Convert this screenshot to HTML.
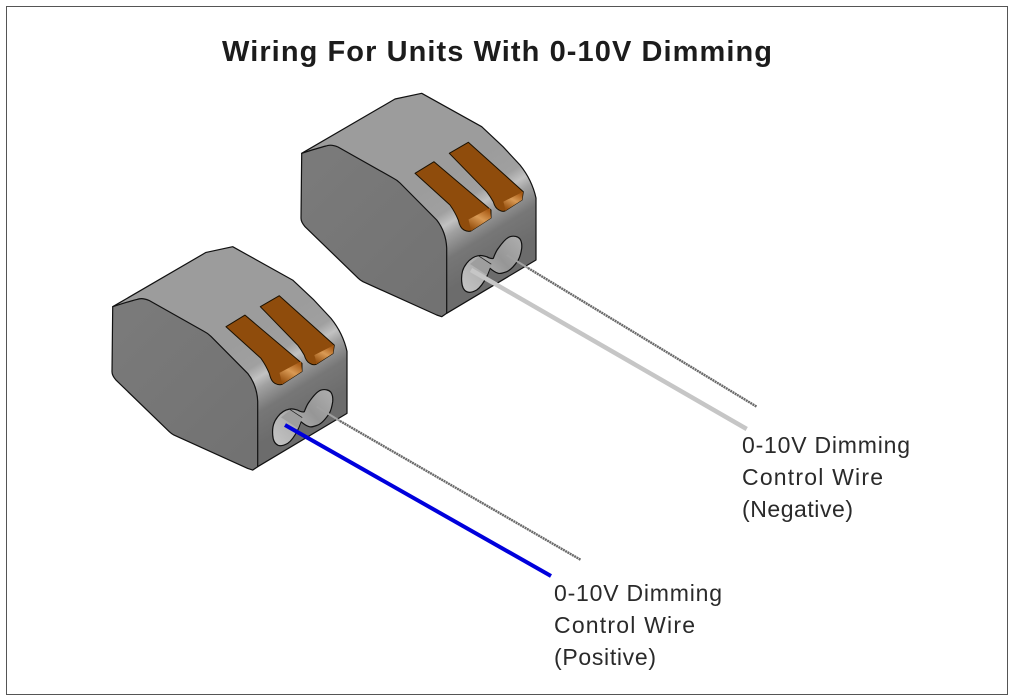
<!DOCTYPE html>
<html><head><meta charset="utf-8"><style>
html,body{margin:0;padding:0;background:#fff;width:1014px;height:700px;overflow:hidden}
svg{display:block}
.t{font-family:"Liberation Sans",sans-serif;font-size:23px;fill:#2a2a2a}
</style></head><body>
<svg width="1014" height="700" viewBox="0 0 1014 700" xmlns="http://www.w3.org/2000/svg">
<defs>
<linearGradient id="face" gradientUnits="userSpaceOnUse" x1="462" y1="166" x2="514" y2="251">
<stop offset="0" stop-color="#9c9c9c"/><stop offset=".3" stop-color="#a0a0a0"/><stop offset=".42" stop-color="#c2c2c2"/><stop offset=".52" stop-color="#a0a0a0"/><stop offset=".72" stop-color="#777"/><stop offset="1" stop-color="#6c6c6c"/></linearGradient>
<linearGradient id="left" gradientUnits="userSpaceOnUse" x1="310" y1="170" x2="440" y2="300">
<stop offset="0" stop-color="#7a7a7a"/><stop offset="1" stop-color="#727272"/></linearGradient>
<linearGradient id="cop" gradientUnits="userSpaceOnUse" x1="474" y1="230" x2="486" y2="209">
<stop offset="0" stop-color="#96500f"/><stop offset=".55" stop-color="#d99a55"/><stop offset="1" stop-color="#a85a14"/></linearGradient>
<linearGradient id="cop2" gradientUnits="userSpaceOnUse" x1="508" y1="210" x2="518" y2="192">
<stop offset="0" stop-color="#96500f"/><stop offset=".55" stop-color="#d99a55"/><stop offset="1" stop-color="#a85a14"/></linearGradient>
<linearGradient id="slot" gradientUnits="userSpaceOnUse" x1="462" y1="290" x2="520" y2="240">
<stop offset="0" stop-color="#c4c4c4"/><stop offset=".35" stop-color="#b0b0b0"/><stop offset=".65" stop-color="#969696"/><stop offset="1" stop-color="#acacac"/></linearGradient>
<g id="conn" stroke-linejoin="round" stroke-linecap="round">
<path d="M301.7 153.3 L395 99 L421.7 93.3 L481.7 126.7 L503 146.7 L520 165 Q532 180 536 198 L536 260 L446.7 313.3 L446.7 248 Z" fill="url(#face)"/>
<path d="M301.7 153.3 Q318 148 326 146 Q331 144 338 147 L393 178 Q397 180 400 183 L436.7 220 Q446 232 446.7 248 L446.7 313.3 L441.7 316.7 L436.7 315 L363 281.7 Q360 280 358.3 278.3 L305 226.7 Q301 222 301 218.3 Z" fill="url(#left)"/>
<path d="M301.7 153.3 Q318 148 326 146 Q331 144 338 147 L393 178 Q397 180 400 183 L436.7 220 Q446 232 446.7 248 L446.7 313.3" fill="none" stroke="#111" stroke-width="1.2"/>
<path d="M301.7 153.3 L301 218.3 Q301 222 305 226.7 L358.3 278.3 Q360 280 363 281.7 L436.7 315 L441.7 316.7 L446.7 313.3 L536 260 L536 198 Q532 180 520 165 L503 146.7 L481.7 126.7 L421.7 93.3 L395 99 Z" fill="none" stroke="#111" stroke-width="1.2"/>
<!-- paddle 1 -->
<path d="M415 173.3 L450 205 Q455 212 458.3 220 Q460 228 464 230 Q468 232 471 231 L491 218 L491 210 L434 161.7Z" fill="#8f4c0c" stroke="#1a1000" stroke-width="1"/>
<path d="M468.5 219.5 L490 208 L491 218 L471 231 Q470 225 468.5 219.5Z" fill="url(#cop)"/>
<!-- paddle 2 -->
<path d="M449.3 153.3 L486.7 191.7 Q490 196 493.3 201.7 Q495 208 499 210 Q502 212 505 211 L522 200 L523.3 191.7 L468.3 142.3Z" fill="#8f4c0c" stroke="#1a1000" stroke-width="1"/>
<path d="M503.3 201.7 L523 191.7 L522 200 L505 211 Q505 206 503.3 201.7Z" fill="url(#cop2)"/>
<!-- slot -->
<path d="M461.7 281.7 C461 273 463 268 466.7 263.3 C470 259 474 256.5 478.3 255.7 C482 255 484 256 486.7 256.7 C489 258 491.5 259 493.3 258.3 C495 254 496 251 498.3 248.3 C502 243 506 238 510 236.7 C514 235.5 518 236.5 520 239 C522 242 522 245 521.7 248.3 C521 253 520 257 518.3 260 C515 265 511 270 506.7 271.7 C503 273 501 274 498.3 273.3 C495 272.5 492 270 490 268.3 C489 271 488 274 486.7 276.7 C484 282 481 287 476.7 290 C473 292 469 293 466.7 291.7 C463 290 462 286 461.7 281.7Z" fill="url(#slot)" stroke="#111" stroke-width="1.2"/>
<path d="M470 264 L479 257 L491 265 L487 275 Z" fill="#9e9e9e"/>
<path d="M478.3 255.7 L491 264" fill="none" stroke="#222" stroke-width=".8"/>
</g>
</defs>
<rect width="1014" height="700" fill="#fff"/>
<rect x="6.5" y="6.5" width="1001" height="688" fill="none" stroke="#555" stroke-width="1"/>
<text x="222" y="61" font-family="Liberation Sans,sans-serif" font-weight="700" font-size="29" fill="#1c1c1c" textLength="550" lengthAdjust="spacing">Wiring For Units With 0-10V Dimming</text>
<use href="#conn"/>
<line x1="506.7" y1="255" x2="528" y2="268" stroke="#a0a0a0" stroke-width="2"/>
<line x1="528" y1="268" x2="756.7" y2="406.7" stroke="#6a6a6a" stroke-width="2.4" stroke-dasharray="2 .6"/>
<line x1="471" y1="270" x2="746.7" y2="429" stroke="#c6c6c6" stroke-width="4.5"/>
<use href="#conn" transform="translate(-189 153.4)"/>
<line x1="316.7" y1="406.7" x2="340" y2="421" stroke="#a0a0a0" stroke-width="2"/>
<line x1="340" y1="421" x2="581" y2="560" stroke="#6a6a6a" stroke-width="2.4" stroke-dasharray="2 .6"/>
<line x1="285" y1="425" x2="551" y2="576" stroke="#0000dc" stroke-width="4"/>
<text class="t" x="742" y="453" textLength="168" lengthAdjust="spacing">0-10V Dimming</text>
<text class="t" x="742" y="485" textLength="141" lengthAdjust="spacing">Control Wire</text>
<text class="t" x="742" y="517" textLength="111" lengthAdjust="spacing">(Negative)</text>
<text class="t" x="554" y="601" textLength="168" lengthAdjust="spacing">0-10V Dimming</text>
<text class="t" x="554" y="633" textLength="141" lengthAdjust="spacing">Control Wire</text>
<text class="t" x="554" y="665" textLength="102" lengthAdjust="spacing">(Positive)</text>
</svg>
</body></html>
